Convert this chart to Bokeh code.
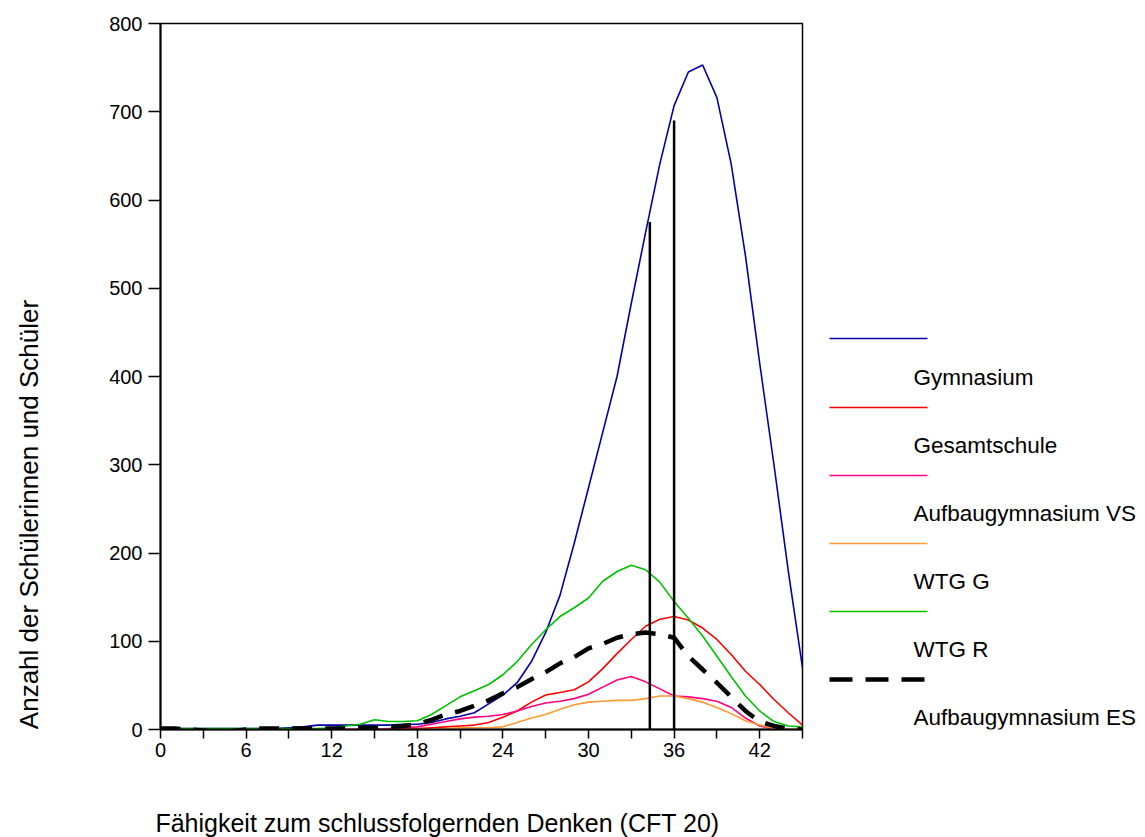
from math import pi

from bokeh.plotting import figure
from bokeh.layouts import row, column
from bokeh.models import Range1d, FixedTicker
from bokeh.core.properties import value
from bokeh.embed import file_html
from bokeh.resources import INLINE

# CFT 20 raw score (x) and number of pupils per score for each school type
cft_score = list(range(46))

gymnasium = [1, 1, 1, 1, 1, 1, 1, 1, 1, 2, 3, 5, 5, 5, 5, 5, 5, 6, 6, 8, 12, 15, 19,
             29, 39, 53, 77, 110, 152, 211, 274, 337, 400, 483, 563, 641, 707, 745,
             753, 716, 641, 537, 415, 300, 180, 70]
gesamtschule = [0, 0, 0, 0, 0, 0, 0, 0, 0, 0, 0, 0, 0, 0, 0, 0, 0, 1, 1, 2, 3, 4, 5,
                8, 14, 21, 31, 39, 42, 45, 54, 69, 86, 102, 117, 125, 128, 124, 115,
                102, 85, 66, 51, 34, 19, 5]
aufbau_vs = [0, 0, 0, 0, 0, 0, 0, 0, 0, 0, 0, 0, 0, 0, 0, 0, 1, 2, 3, 6, 9, 12, 14,
             15, 17, 21, 26, 30, 32, 35, 40, 48, 56, 60, 54, 46, 38, 37, 35, 32, 25,
             13, 4, 0, 0, 0]
wtg_g = [0, 0, 0, 0, 0, 0, 0, 0, 0, 0, 0, 0, 0, 0, 0, 0, 0, 0, 0, 0, 1, 2, 2, 2, 3,
         8, 13, 17, 23, 28, 31, 32, 33, 33, 35, 38, 38, 35, 31, 25, 18, 10, 5, 1, 0, 1]
wtg_r = [1, 1, 1, 1, 1, 1, 1, 1, 1, 1, 1, 1, 2, 4, 6, 11, 9, 9, 10, 17, 27, 37, 44,
         51, 62, 77, 96, 113, 128, 138, 149, 168, 179, 186, 181, 167, 145, 126, 106,
         83, 60, 38, 21, 9, 4, 3]
aufbau_es = [1, 1, 0, -1, -3, -2, 0, 1, 1, 1, 1, 1, 1, 1, 2, 2, 3, 4, 6, 11, 17, 21,
             27, 33, 41, 48, 57, 65, 75, 82, 92, 97, 104, 108, 110, 108, 104, 83, 68,
             53, 37, 21, 9, 4, 1, 0]

# vertical reference lines (score position and height)
marker_score = [34.3, 36.0]
marker_height = [575, 690]

y_ticks = [0, 100, 200, 300, 400, 500, 600, 700, 800]
x_ticks = list(range(0, 46, 3))
x_labelled = [0, 6, 12, 18, 24, 30, 36, 42]

series_names = ["Gymnasium", "Gesamtschule", "Aufbaugymnasium VS", "WTG G", "WTG R",
                "Aufbaugymnasium ES"]
series_values = [gymnasium, gesamtschule, aufbau_vs, wtg_g, wtg_r, aufbau_es]
series_colors = ["#0000A8", "#FF0000", "#FF0080", "#FF9933", "#00C000", "#000000"]

y_title = "Anzahl der Schülerinnen und Schüler"
x_title = "Fähigkeit zum schlussfolgernden Denken (CFT 20)"

FONT = "Liberation Sans"
W, H = 1145, 837
TOP_H = 790          # height of the upper row (title strip | chart | legend)
LEFT_W = 60          # strip holding the vertical axis title
MAIN_W = 752
LEG_W = W - LEFT_W - MAIN_W
FRAME_TOP, FRAME_BOTTOM = 23, 729   # page rows of the chart frame


def blank(width, height, x0, x1, y0, y1):
    """A bare drawing area whose coordinates are page pixels."""
    f = figure(width=width, height=height, output_backend="svg", toolbar_location=None,
               x_range=Range1d(x0, x1), y_range=Range1d(y0, y1),
               x_axis_type=None, y_axis_type=None, min_border=0)
    f.xgrid.visible = False
    f.ygrid.visible = False
    f.outline_line_color = None
    return f


# ---- main chart -------------------------------------------------------------
p = figure(width=MAIN_W, height=TOP_H, output_backend="svg", toolbar_location=None,
           x_range=Range1d(0, 45), y_range=Range1d(0, 800),
           min_border_left=160 - LEFT_W, min_border_right=MAIN_W + LEFT_W - 802,
           min_border_top=FRAME_TOP, min_border_bottom=TOP_H - FRAME_BOTTOM)
p.xgrid.visible = False
p.ygrid.visible = False
p.outline_line_color = "black"
p.outline_line_width = 1.5

p.yaxis.ticker = FixedTicker(ticks=y_ticks, minor_ticks=[])
p.xaxis.ticker = FixedTicker(ticks=x_ticks, minor_ticks=[])
p.xaxis.major_label_overrides = {t: (str(t) if t in x_labelled else "") for t in x_ticks}
for ax in (p.xaxis[0], p.yaxis[0]):
    ax.axis_line_color = "black"
    ax.axis_line_width = 2
    ax.major_tick_line_color = "black"
    ax.major_tick_line_width = 1.5
    ax.major_tick_in = 0
    ax.minor_tick_line_color = None
    ax.major_label_text_font = FONT
    ax.major_label_text_font_size = "20px"
    ax.major_label_text_color = "black"
p.yaxis.major_tick_out = 12
p.yaxis.major_label_standoff = 6
p.xaxis.major_tick_out = 9
p.xaxis.major_label_standoff = 4

for name, vals, col in zip(series_names, series_values, series_colors):
    if name == "Aufbaugymnasium ES":
        p.line(cft_score, vals, line_color=col, line_width=4.5, line_dash="20 13")
    else:
        p.line(cft_score, vals, line_color=col, line_width=1.6)

p.segment(x0=marker_score, y0=[0, 0], x1=marker_score, y1=marker_height,
          line_color="black", line_width=2.5)

# the side strips share the chart's frame rows, so they map page rows directly
# ---- vertical axis title ----------------------------------------------------
left = blank(LEFT_W, TOP_H, 0, LEFT_W, FRAME_BOTTOM, FRAME_TOP)
left.text(x=[28], y=[514], text=[y_title], angle=pi / 2,
          text_align="center", text_baseline="middle",
          text_font=value(FONT), text_font_size="26px", text_color="black")

# ---- legend: line sample with its label set below it -------------------------
leg = blank(LEG_W, TOP_H, 802 + 10, W, FRAME_BOTTOM, FRAME_TOP)
legend_line_y = [338, 407, 475, 543, 611, 679]
legend_text_y = [377, 445, 513, 581, 649, 717]
for name, col, ly in zip(series_names, series_colors, legend_line_y):
    if name == "Aufbaugymnasium ES":
        leg.line([829, 927], [ly, ly], line_color=col, line_width=4.5, line_dash="23 13")
    else:
        leg.line([829, 927], [ly, ly], line_color=col, line_width=1.6)
leg.text(x=[913] * len(series_names), y=legend_text_y, text=series_names,
         text_align="left", text_baseline="middle",
         text_font=value(FONT), text_font_size="22.5px", text_color="black")

# ---- horizontal axis title --------------------------------------------------
bottom = blank(W, H - TOP_H, 0, W, H, TOP_H)
bottom.text(x=[437], y=[822], text=[x_title], text_align="center",
            text_baseline="middle", text_font=value(FONT), text_font_size="25px",
            text_color="black")

page = column(row(left, p, leg, spacing=0), bottom, spacing=0)
open("out.html", "w").write(file_html(page, INLINE))
